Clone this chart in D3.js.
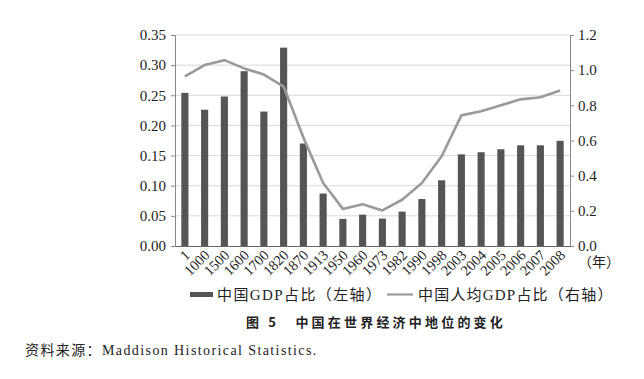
<!DOCTYPE html>
<html><head><meta charset="utf-8">
<script src="https://cdn.jsdelivr.net/npm/d3@7/dist/d3.min.js"></script>
<style>body{margin:0;background:#fff}</style>
</head><body>
<svg id="c" width="644" height="379"></svg>
<script>
const years = ["1","1000","1500","1600","1700","1820","1870","1913","1950","1960","1973","1982","1990","1998","2003","2004","2005","2006","2007","2008"];
const gdpShare = [0.254,0.226,0.248,0.290,0.223,0.329,0.170,0.087,0.045,0.052,0.0455,0.057,0.078,0.109,0.152,0.1555,0.1605,0.167,0.167,0.1745];
const perCapitaShare = [0.964,1.029,1.057,1.010,0.975,0.907,0.617,0.358,0.211,0.238,0.202,0.263,0.358,0.510,0.743,0.766,0.800,0.834,0.846,0.884];
const leftTicks = [0,0.05,0.10,0.15,0.20,0.25,0.30,0.35];
const rightTicks = [0,0.2,0.4,0.6,0.8,1.0,1.2];
const legendLabels = ["中国GDP占比（左轴）","中国人均GDP占比（右轴）"];
const title = "图 5　中国在世界经济中地位的变化";
const source = "资料来源：Maddison Historical Statistics.";

const svg = d3.select("#c");
const L = 175, R = 570, T = 35, B = 246;
const serif = "'Liberation Serif','Times New Roman','Noto Sans CJK SC',serif";
const cjk = "'Liberation Serif','Noto Sans CJK SC',serif";

const x = d3.scaleBand().domain(years).range([L, R]).paddingInner(0.64).paddingOuter(0.32);
const yL = d3.scaleLinear().domain([0,0.35]).range([B,T]);
const yR = d3.scaleLinear().domain([0,1.2]).range([B,T]);

// gridlines
svg.append("g").selectAll("line").data(leftTicks.slice(1)).join("line")
  .attr("x1", L).attr("x2", R).attr("y1", d=>yL(d)).attr("y2", d=>yL(d))
  .attr("stroke", "#d9d9d9").attr("stroke-width", 1);

// bars
svg.append("g").selectAll("rect").data(years).join("rect")
  .attr("x", d=>x(d)).attr("width", x.bandwidth())
  .attr("y", (d,i)=>yL(gdpShare[i])).attr("height", (d,i)=>B - yL(gdpShare[i]))
  .attr("fill", "#555555");

// line
const line = d3.line().x((d,i)=>x(years[i]) + x.bandwidth()/2).y(d=>yR(d));
svg.append("path").datum(perCapitaShare).attr("d", line)
  .attr("fill","none").attr("stroke","#9a9a9a").attr("stroke-width",2.6).attr("stroke-linejoin","round");

// left axis
const gl = svg.append("g").attr("transform", `translate(${L},0)`)
  .call(d3.axisLeft(yL).tickValues(leftTicks).tickFormat(d3.format(".2f")).tickSize(4).tickPadding(5));
gl.select(".domain").attr("stroke","#888");
gl.selectAll(".tick line").attr("stroke","#888");
gl.selectAll("text").attr("font-family", serif).attr("font-size", 15).attr("fill","#222");

// right axis
const gr = svg.append("g").attr("transform", `translate(${R},0)`)
  .call(d3.axisRight(yR).tickValues(rightTicks).tickFormat(d3.format(".1f")).tickSize(4).tickPadding(4));
gr.select(".domain").attr("stroke","#888");
gr.selectAll(".tick line").attr("stroke","#888");
gr.selectAll("text").attr("font-family", serif).attr("font-size", 15).attr("fill","#222");

// bottom axis
const gb = svg.append("g").attr("transform", `translate(0,${B})`)
  .call(d3.axisBottom(x).tickSize(0).tickPadding(0));
gb.select(".domain").attr("stroke","#666");
gb.selectAll("text").attr("font-family", serif).attr("font-size", 14.5).attr("fill","#222")
  .attr("text-anchor","end").attr("dy",0)
  .attr("transform","translate(6,10) rotate(-45)");

svg.append("text").attr("x", R + 8).attr("y", 267).text("（年）")
  .attr("font-family", cjk).attr("font-size", 14).attr("fill","#222").attr("text-anchor","start");

// legend
const lg = svg.append("g").attr("font-family", cjk).attr("font-size", 15).attr("fill","#222");
lg.append("rect").attr("x",190).attr("y",292).attr("width",23).attr("height",5).attr("fill","#555555");
lg.append("text").attr("x",217).attr("y",300).text(legendLabels[0]).attr("letter-spacing",1.4);
lg.append("line").attr("x1",387).attr("x2",413).attr("y1",294.5).attr("y2",294.5).attr("stroke","#9a9a9a").attr("stroke-width",2.2);
lg.append("text").attr("x",418).attr("y",300).text(legendLabels[1]).attr("letter-spacing",1.2);

// title
svg.append("text").attr("x",246).attr("y",327).text(title)
  .attr("font-family","'Noto Sans CJK SC',sans-serif").attr("font-weight","bold").attr("font-size",13)
  .attr("letter-spacing",3.2).attr("fill","#222");

// source
svg.append("text").attr("x",25).attr("y",355).text(source)
  .attr("font-family", cjk).attr("font-size",14).attr("letter-spacing",1.4).attr("fill","#222");
</script>
</body></html>
